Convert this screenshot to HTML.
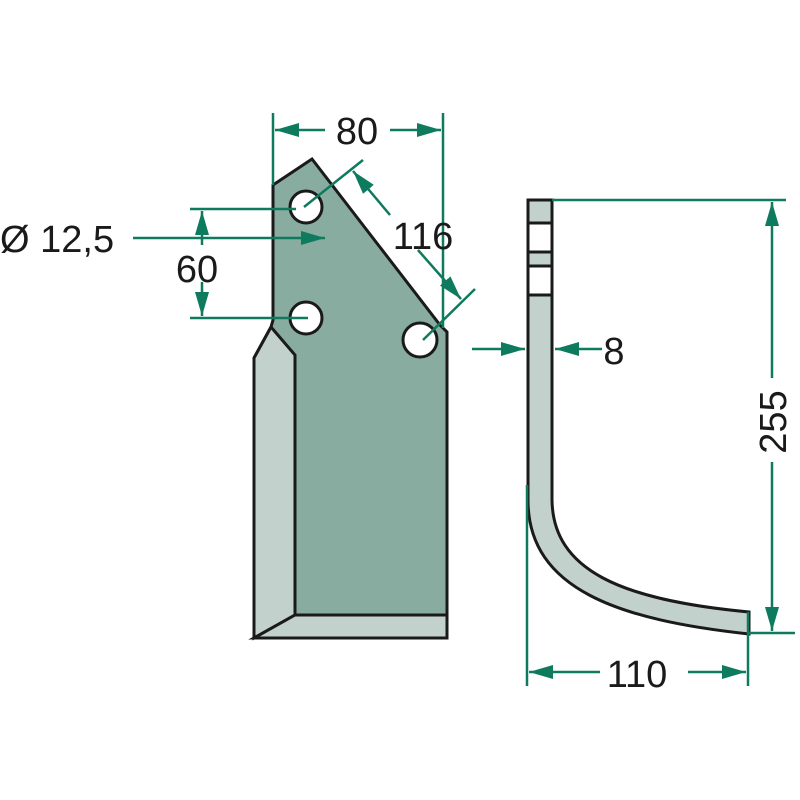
<!DOCTYPE html>
<html><head><meta charset="utf-8"><style>html,body{margin:0;padding:0;background:#fff}svg{display:block}</style></head>
<body>
<svg width="800" height="800" viewBox="0 0 800 800" xmlns="http://www.w3.org/2000/svg">
<defs>
<marker id="b" viewBox="0 0 10 10" refX="10" refY="5" markerWidth="24" markerHeight="14" markerUnits="userSpaceOnUse" orient="auto-start-reverse" preserveAspectRatio="none">
<path d="M0,0 L10,5 L0,10 z" fill="#0e7a5e"/></marker>
</defs>
<g stroke="#1a1a1a" stroke-width="3" stroke-linejoin="miter">
<polygon points="273,185 312,159 440,325 447,332 447,638 254,638 254,358 271,327 273,320" fill="#88aca0"/>
<polygon points="271,327 254,358 254,638 295,615 295,355" fill="#c3d1cd"/>
<polygon points="295,615 447,615 447,638 254,638" fill="#c3d1cd"/>
<circle cx="306" cy="207" r="16" fill="#fff"/>
<circle cx="306" cy="318" r="16" fill="#fff"/>
<circle cx="420" cy="340" r="17" fill="#fff"/>
</g>
<g stroke="#1a1a1a" stroke-width="3">
<path d="M528,200 L552,200 L552,500 C553,570 620,600 749,612 L749,634 C620,620 528,590 528,500 Z" fill="#c3d1cd"/>
<rect x="528" y="223" width="24" height="29" fill="#fff"/>
<rect x="528" y="266" width="24" height="29" fill="#fff"/>
</g>
<g stroke="#0e7a5e" stroke-width="2.5" fill="none">
<line x1="273" y1="113" x2="273" y2="185"/>
<line x1="443" y1="113" x2="443" y2="328"/>
<line x1="325" y1="130" x2="275" y2="130" marker-end="url(#b)"/>
<line x1="390" y1="130" x2="441" y2="130" marker-end="url(#b)"/>
<line x1="304" y1="207" x2="363" y2="160"/>
<line x1="423" y1="340" x2="475" y2="289"/>
<line x1="390" y1="215" x2="353" y2="171" marker-end="url(#b)"/>
<line x1="418" y1="250" x2="461" y2="299" marker-end="url(#b)"/>
<line x1="133" y1="238" x2="325" y2="238" marker-end="url(#b)"/>
<line x1="190" y1="209" x2="296" y2="209"/>
<line x1="190" y1="318" x2="308" y2="318"/>
<line x1="202" y1="245" x2="202" y2="211" marker-end="url(#b)"/>
<line x1="202" y1="282" x2="202" y2="316" marker-end="url(#b)"/>
<line x1="552" y1="200" x2="786" y2="200"/>
<line x1="749" y1="633" x2="795" y2="633"/>
<line x1="772" y1="378" x2="772" y2="202" marker-end="url(#b)"/>
<line x1="772" y1="462" x2="772" y2="631" marker-end="url(#b)"/>
<line x1="527" y1="485" x2="527" y2="686"/>
<line x1="748" y1="612" x2="748" y2="686"/>
<line x1="600" y1="672" x2="529" y2="672" marker-end="url(#b)"/>
<line x1="688" y1="672" x2="746" y2="672" marker-end="url(#b)"/>
<line x1="472" y1="349" x2="525" y2="349" marker-end="url(#b)"/>
<line x1="602" y1="349" x2="555" y2="349" marker-end="url(#b)"/>
</g>
<g font-family="Liberation Sans, sans-serif" font-size="38" fill="#1a1a1a">
<text x="357" y="144" text-anchor="middle">80</text>
<text x="423" y="249" text-anchor="middle">116</text>
<text x="0" y="252">Ø 12,5</text>
<text x="197" y="282" text-anchor="middle">60</text>
<text x="614" y="364" text-anchor="middle">8</text>
<text x="637" y="687" text-anchor="middle">110</text>
<text x="0" y="0" text-anchor="middle" transform="translate(786,422) rotate(-90)">255</text>
</g>
</svg>
</body></html>
